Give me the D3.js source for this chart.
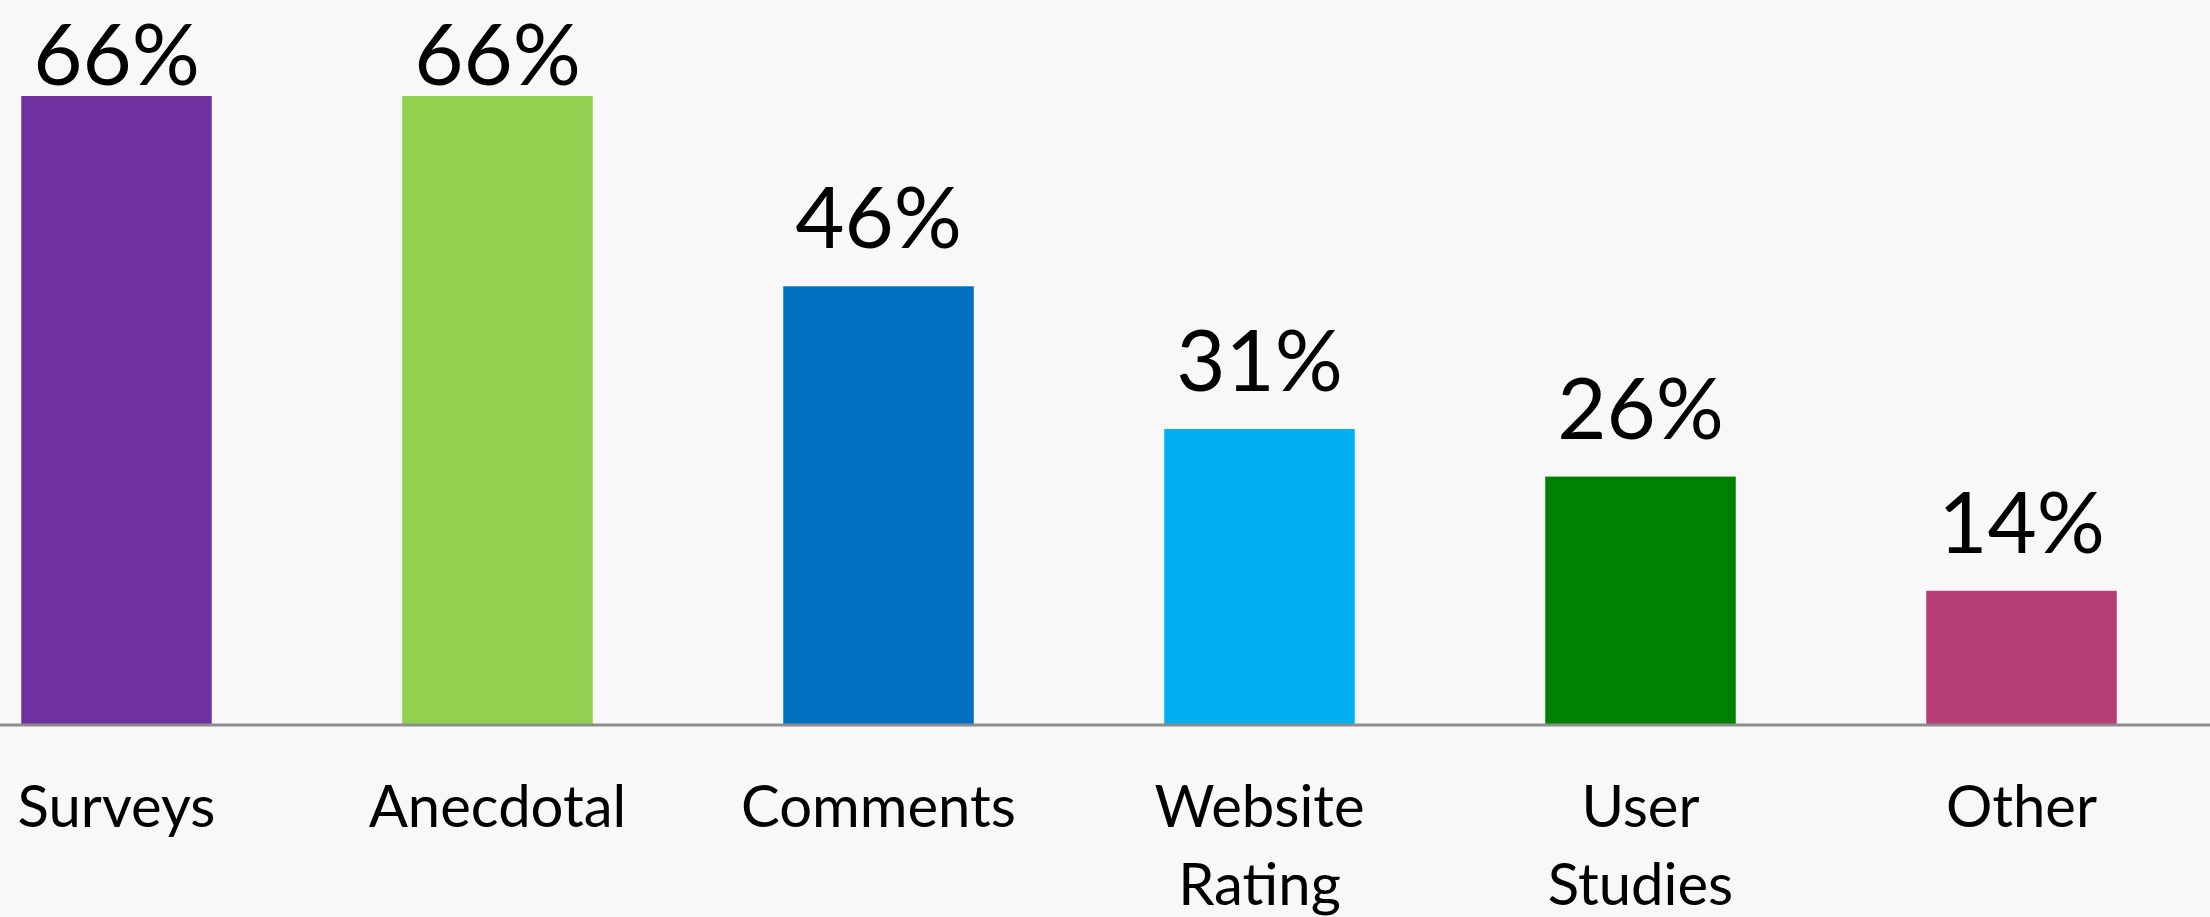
<!DOCTYPE html>
<html>
<head>
<meta charset="utf-8">
<script src="https://cdn.jsdelivr.net/npm/d3@7"></script>
<style>
  html, body { margin: 0; padding: 0; background: #f8f8f8; }
  svg { display: block; }
</style>
</head>
<body>
<div id="chart"></div>
<script>
const categories = ["Surveys", "Anecdotal", "Comments", "Website Rating", "User Studies", "Other"];
const values = [66, 66, 46, 31, 26, 14];
const colors = ["#7030a0", "#92d050", "#0070c0", "#00b0f0", "#008000", "#b63d76"];
// category labels wrap into these lines
const labelLines = [["Surveys"], ["Anecdotal"], ["Comments"], ["Website", "Rating"], ["User", "Studies"], ["Other"]];

const width = 2210, height = 917;
const baseline = 724;
const fontFam = "Lato, 'Open Sans', sans-serif";

const svg = d3.select("#chart").append("svg")
  .attr("width", width)
  .attr("height", height);

svg.append("rect")
  .attr("width", width).attr("height", height)
  .attr("fill", "#f8f8f8");

const x = d3.scaleBand()
  .domain(categories)
  .range([-74, 2212])
  .paddingInner(0.5)
  .paddingOuter(0.25);

const y = d3.scaleLinear()
  .domain([0, 66])
  .range([baseline, 96]);

const data = categories.map((c, i) => ({ c, v: values[i], col: colors[i], lines: labelLines[i] }));

// bars
svg.append("g").selectAll("rect")
  .data(data)
  .join("rect")
  .attr("x", d => x(d.c))
  .attr("y", d => y(d.v))
  .attr("width", x.bandwidth())
  .attr("height", d => y(0) - y(d.v))
  .attr("fill", d => d.col);

// axis line
const xAxis = d3.axisBottom(x).tickSize(0).tickFormat("");
svg.append("g")
  .attr("class", "x axis")
  .attr("transform", `translate(0,${baseline + 1})`)
  .call(xAxis)
  .call(g => g.select("path.domain")
    .attr("d", `M0,0H${width}`)
    .attr("stroke", "#8c8c8c")
    .attr("stroke-width", 3));

// value labels (clamped at the top like the original)
svg.append("g").selectAll("text")
  .data(data)
  .join("text")
  .attr("x", d => x(d.c) + x.bandwidth() / 2)
  .attr("y", d => Math.max(y(d.v) - 38, 85))
  .attr("text-anchor", "middle")
  .attr("font-family", fontFam)
  .attr("font-size", 85)
  .attr("fill", "#000")
  .text(d => d.v + "%");

// category labels
const cat = svg.append("g").selectAll("text")
  .data(data)
  .join("text")
  .attr("x", d => x(d.c) + x.bandwidth() / 2)
  .attr("y", 827)
  .attr("text-anchor", "middle")
  .attr("font-family", fontFam)
  .attr("font-size", 58)
  .attr("fill", "#000");

cat.selectAll("tspan")
  .data(d => d.lines.map(l => ({ l, cx: x(d.c) + x.bandwidth() / 2 })))
  .join("tspan")
  .attr("x", t => t.cx)
  .attr("dy", (t, i) => i === 0 ? 0 : 78)
  .text(t => t.l);
</script>
</body>
</html>
